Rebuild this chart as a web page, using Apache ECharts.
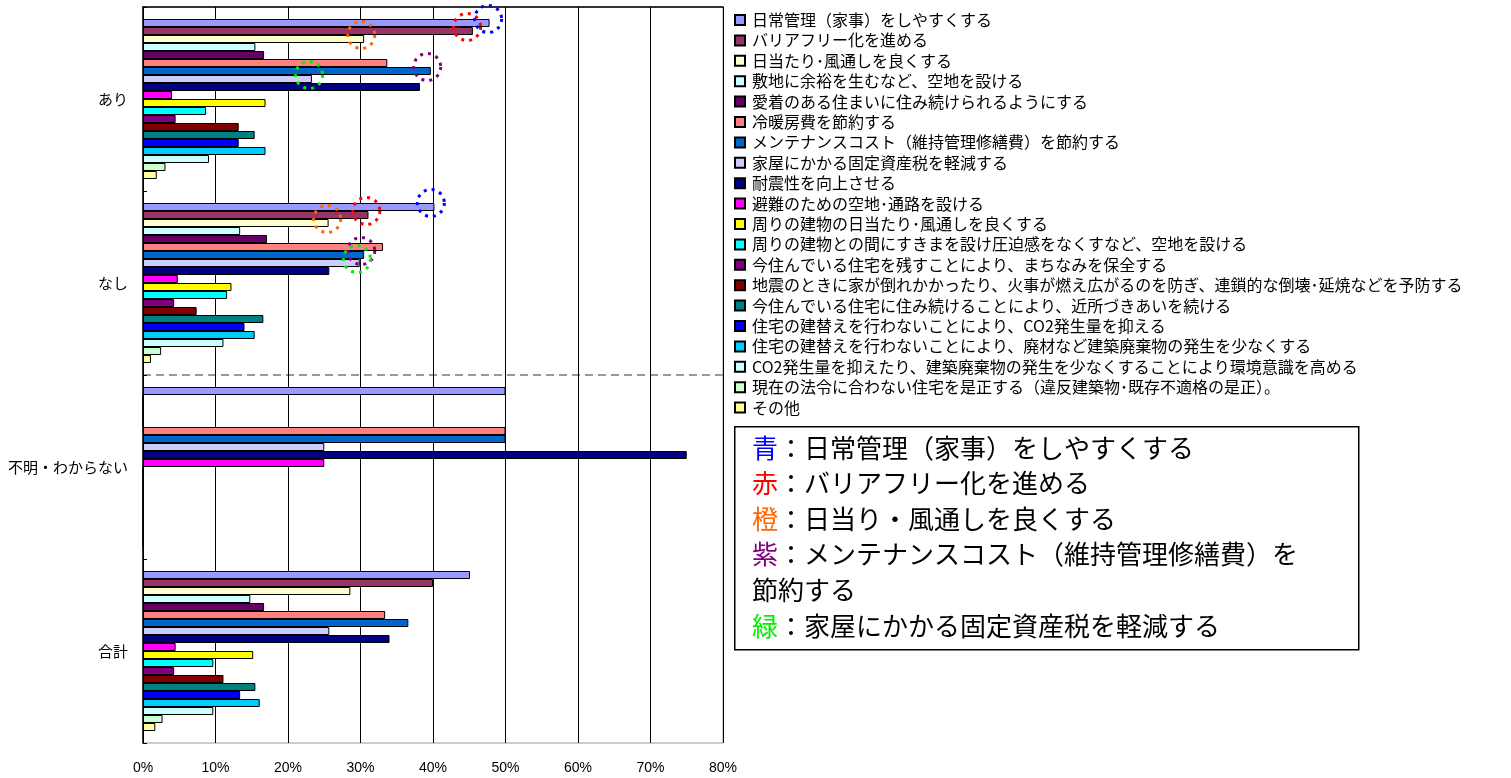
<!DOCTYPE html>
<html><head><meta charset="utf-8">
<script src="https://cdn.jsdelivr.net/npm/echarts@6/dist/echarts.min.js"></script>
<style>html,body{margin:0;padding:0;background:#fff}#c{width:1511px;height:778px}</style>
</head><body><div id="c"></div>
<script>
const categories = ['あり', 'なし', '不明・わからない', '合計'];
const seriesNames = [
  '日常管理（家事）をしやすくする',
  'バリアフリー化を進める',
  '日当たり･風通しを良くする',
  '敷地に余裕を生むなど、空地を設ける',
  '愛着のある住まいに住み続けられるようにする',
  '冷暖房費を節約する',
  'メンテナンスコスト（維持管理修繕費）を節約する',
  '家屋にかかる固定資産税を軽減する',
  '耐震性を向上させる',
  '避難のための空地･通路を設ける',
  '周りの建物の日当たり･風通しを良くする',
  '周りの建物との間にすきまを設け圧迫感をなくすなど、空地を設ける',
  '今住んでいる住宅を残すことにより、まちなみを保全する',
  '地震のときに家が倒れかかったり、火事が燃え広がるのを防ぎ、連鎖的な倒壊･延焼などを予防する',
  '今住んでいる住宅に住み続けることにより、近所づきあいを続ける',
  '住宅の建替えを行わないことにより、CO2発生量を抑える',
  '住宅の建替えを行わないことにより、廃材など建築廃棄物の発生を少なくする',
  'CO2発生量を抑えたり、建築廃棄物の発生を少なくすることにより環境意識を高める',
  '現在の法令に合わない住宅を是正する（違反建築物･既存不適格の是正）。',
  'その他'
];
// values (%) per category, in series order
const ari    = [47.8, 45.5, 30.5, 15.5, 16.7, 33.7, 39.7, 23.3, 38.2, 4.0, 16.9, 8.7, 4.5, 13.2, 15.4, 13.2, 16.9, 9.1, 3.1, 1.9];
const nashi  = [40.2, 31.1, 25.6, 13.4, 17.1, 33.1, 30.5, 29.9, 25.7, 4.8, 12.2, 11.6, 4.3, 7.4, 16.6, 14.0, 15.4, 11.1, 2.5, 1.1];
const fumei  = [50, 0, 0, 0, 0, 50, 50, 25, 75, 25, 0, 0, 0, 0, 0, 0, 0, 0, 0, 0];
const total  = [45.1, 40.0, 28.6, 14.8, 16.7, 33.4, 36.6, 25.7, 34.0, 4.5, 15.2, 9.7, 4.3, 11.1, 15.5, 13.4, 16.1, 9.7, 2.7, 1.7];
const groups = [ari, nashi, fumei, total];
const xMin = 0, xMax = 80, xStep = 10;

// highlighted answers (dotted circles): [seriesIndex, category, value]
const circleTargets = [
  [0, 'あり', 47.6], [1, 'あり', 44.7], [2, 'あり', 30.1], [6, 'あり', 39.2], [7, 'あり', 22.9],
  [0, 'なし', 39.7], [1, 'なし', 30.8], [2, 'なし', 25.4], [6, 'なし', 30.1], [7, 'なし', 29.5]
];
// dashed separator drawn before this category
const separatorBefore = '不明・わからない';
const noteLines = [
  ['青', '：日常管理（家事）をしやすくする'],
  ['赤', '：バリアフリー化を進める'],
  ['橙', '：日当り・風通しを良くする'],
  ['紫', '：メンテナンスコスト（維持管理修繕費）を'],
  ['', '節約する'],
  ['緑', '：家屋にかかる固定資産税を軽減する']
];

const colors = ['#9999FF','#993366','#FFFFCC','#CCFFFF','#660066','#FF8080','#0066CC','#CCCCFF','#000080','#FF00FF',
                '#FFFF00','#00FFFF','#800080','#800000','#008080','#0000FF','#00CCFF','#CCFFFF','#CCFFCC','#FFFF99'];
const circleColors = {0: '#0000FF', 1: '#FF0000', 2: '#FF6600', 6: '#800080', 7: '#00EE00'};
const noteColors = {'青': '#0000FF', '赤': '#FF0000', '橙': '#FF6600', '紫': '#800080', '緑': '#00EE00'};
const noteKeys = {'青': 'b', '赤': 'r', '橙': 'o', '紫': 'p', '緑': 'g'};

const JP = "'Noto Sans CJK JP', sans-serif";

const series = seriesNames.map((name, i) => {
  const s = {
    name, type: 'bar',
    data: groups.map(g => g[i]),
    barWidth: 8, barGap: '0%',
    itemStyle: {color: colors[i], borderColor: '#000', borderWidth: 1},
    emphasis: {disabled: true}
  };
  const targets = circleTargets.filter(t => t[0] === i);
  if (targets.length) {
    s.markPoint = {
      symbol: 'circle', symbolSize: 27, symbolOffset: [0, -4], silent: true,
      label: {show: false},
      itemStyle: {color: 'rgba(0,0,0,0)', borderColor: circleColors[i], borderWidth: 3, borderType: [3, 5]},
      data: targets.map(t => ({coord: [t[2], t[1]]}))
    };
  }
  return s;
});

const rich = {n: {fontSize: 26, fill: '#000', fontFamily: JP, lineHeight: 35.6}};
Object.keys(noteColors).forEach(k => {
  rich[noteKeys[k]] = {fontSize: 26, fill: noteColors[k], fontFamily: JP, lineHeight: 35.6};
});
const noteText = noteLines.map(l => (l[0] ? '{' + noteKeys[l[0]] + '|' + l[0] + '}' : '') + '{n|' + l[1] + '}').join('\n');

const sepIndex = categories.indexOf(separatorBefore);

const chart = echarts.init(document.getElementById('c'), null, {renderer: 'canvas'});
chart.setOption({
  animation: false,
  backgroundColor: '#fff',
  grid: {left: 143, right: 788, top: 7, bottom: 35, show: true, borderColor: '#999', borderWidth: 1, backgroundColor: 'transparent'},
  xAxis: {
    type: 'value', min: xMin, max: xMax, interval: xStep,
    axisLine: {show: true, lineStyle: {color: '#000', width: 1.5}},
    axisTick: {show: false},
    splitLine: {show: true, lineStyle: {color: '#000', width: 1}},
    axisLabel: {formatter: '{value}%', fontSize: 14, color: '#000', margin: 18,
      fontFamily: "'Liberation Sans Narrow', 'Liberation Sans', sans-serif"}
  },
  yAxis: [{
    type: 'category', data: categories, inverse: true,
    axisLine: {show: true, lineStyle: {color: '#000', width: 1.5}},
    axisTick: {show: true, inside: true, length: 4, lineStyle: {color: '#000'}},
    axisLabel: {fontSize: 15, color: '#000', margin: 15, fontFamily: JP},
    splitLine: {show: false}
  }, {
    // hidden helper axis spanning the category bands, for the dashed separator
    type: 'value', min: 0, max: categories.length, interval: sepIndex, inverse: true,
    axisLine: {show: false}, axisTick: {show: false}, axisLabel: {show: false},
    splitLine: {show: true, showMinLine: false, showMaxLine: false,
      lineStyle: {color: '#999', width: 2, type: [8, 5]}}
  }],
  legend: {
    data: seriesNames, orient: 'vertical', left: 734, top: 11.5,
    icon: 'rect', itemWidth: 10, itemHeight: 10, itemGap: 3.4, padding: 0,
    selectedMode: false,
    textStyle: {fontSize: 16, lineHeight: 17, color: '#000', fontFamily: JP, padding: [0, 0, 0, 2]}
  },
  graphic: [
    {type: 'rect', left: 734, top: 426, shape: {width: 624, height: 223},
     style: {fill: '#fff', stroke: '#000', lineWidth: 1.5}, z: 10},
    {type: 'text', left: 752, top: 430, z: 11,
     style: {text: noteText, rich: rich, fontSize: 26, fontFamily: JP, lineHeight: 35.6, fill: '#000'}}
  ],
  series
});
</script>
</body></html>
